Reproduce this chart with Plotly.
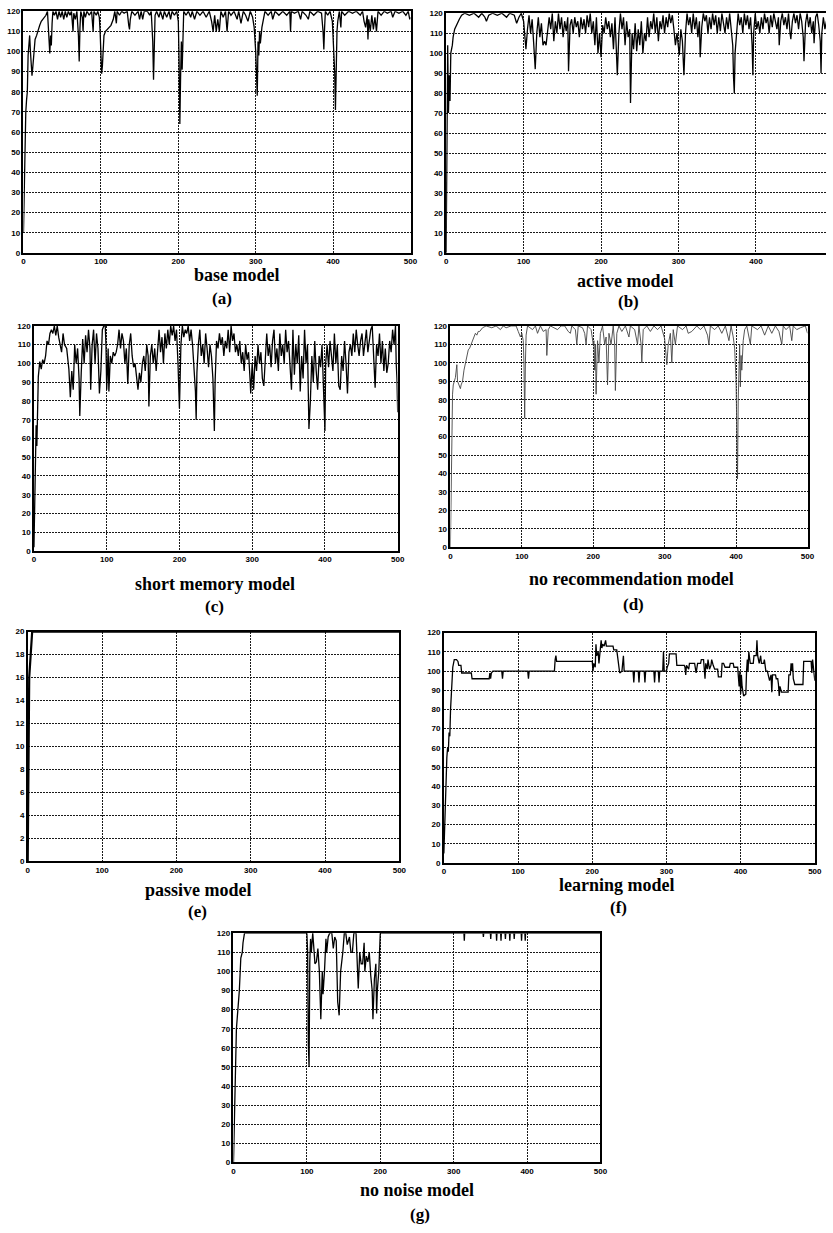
import plotly.graph_objects as go

# ---------------- data ----------------
x_tick_vals = [0, 100, 200, 300, 400, 500]
y_tick_vals_120 = [0, 10, 20, 30, 40, 50, 60, 70, 80, 90, 100, 110, 120]
y_tick_vals_20 = [0, 2, 4, 6, 8, 10, 12, 14, 16, 18, 20]

base_model = [(0,10),(1,33),(2,53),(3,70),(4,76),(5,80),(6,98),(7,102),(8,108),(9,100),(10,95),(11,88),(12,92),(13,97),(14,100),(15,106),(17,108),(19,111),(21,113),(23,115),(25,116),(27,117),(29,118),(31,120),(32,112),(33,104),(34,99),(35,108),(36,103),(37,114),(38,120),(40,118),(42,120),(44,116),(46,120),(48,117),(50,120),(52,116),(54,120),(56,117),(58,120),(60,118),(62,120),(64,110),(65,119),(67,116),(69,120),(71,108),(72,95),(73,112),(74,120),(76,117),(77,110),(78,120),(80,117),(82,120),(85,118),(88,120),(90,110),(91,120),(94,118),(96,120),(98,117),(99,110),(100,100),(101,89),(102,93),(103,102),(104,108),(106,110),(108,111),(110,112),(113,113),(116,116),(118,120),(120,114),(121,120),(124,118),(127,120),(130,119),(134,120),(136,113),(137,111),(138,116),(140,120),(144,118),(148,120),(150,116),(152,120),(154,116),(156,120),(160,120),(163,118),(165,120),(167,105),(168,86),(169,100),(170,118),(172,120),(175,117),(177,120),(180,116),(182,120),(185,117),(188,120),(190,116),(192,120),(195,118),(198,120),(200,115),(201,96),(202,64),(203,88),(204,105),(205,91),(206,110),(207,120),(210,118),(213,120),(216,117),(218,120),(221,116),(224,120),(228,118),(232,120),(236,117),(240,120),(243,115),(245,110),(247,118),(249,110),(251,116),(253,110),(255,120),(258,117),(261,120),(263,110),(265,120),(268,118),(272,120),(276,116),(278,120),(281,114),(284,120),(287,118),(290,115),(293,120),(296,117),(298,112),(300,100),(301,90),(302,78),(303,105),(304,98),(305,110),(306,104),(308,112),(310,116),(312,120),(316,118),(320,120),(322,116),(325,120),(330,118),(335,120),(340,118),(344,120),(345,110),(346,120),(350,119),(355,120),(358,116),(360,120),(365,118),(368,116),(370,120),(375,118),(380,120),(385,119),(387,110),(388,101),(389,112),(390,120),(393,118),(396,120),(399,115),(401,100),(402,90),(403,71),(404,95),(405,110),(406,115),(408,120),(410,112),(411,120),(415,118),(420,120),(425,119),(430,120),(435,118),(438,120),(440,115),(442,112),(444,118),(445,106),(446,116),(448,110),(450,118),(452,111),(454,117),(456,110),(458,120),(462,118),(466,120),(470,119),(475,120),(477,117),(480,120),(485,119),(490,120),(494,118),(497,120),(499,116),(500,117)]

active_model = [(0,0),(1,40),(2,104),(3,70),(4,89),(5,76),(6,100),(8,104),(9,108),(11,112),(14,115),(17,117),(20,119),(24,120),(30,119),(36,120),(42,118),(46,120),(50,118),(52,116),(55,119),(60,120),(66,119),(72,120),(78,118),(82,120),(88,119),(91,115),(94,118),(97,120),(100,116),(102,106),(103,102),(105,112),(107,119),(109,110),(111,117),(113,105),(115,92),(117,110),(119,118),(121,108),(123,115),(125,104),(127,106),(129,104),(131,110),(133,118),(135,112),(137,120),(139,106),(141,116),(143,110),(145,120),(147,112),(149,118),(151,108),(153,116),(155,111),(157,118),(158,91),(160,114),(162,117),(164,110),(166,118),(168,113),(170,116),(172,108),(174,118),(176,112),(178,117),(180,110),(182,119),(184,113),(186,120),(188,110),(190,116),(192,104),(194,118),(196,100),(198,110),(200,98),(202,114),(204,110),(206,118),(208,112),(210,116),(212,108),(214,115),(216,102),(218,118),(220,100),(221,89),(223,110),(225,120),(227,112),(229,118),(231,104),(233,116),(235,108),(237,112),(238,75),(240,110),(242,102),(244,115),(246,101),(248,112),(250,104),(252,116),(254,100),(256,110),(258,106),(260,118),(262,108),(264,116),(266,112),(268,120),(270,110),(272,118),(274,106),(276,116),(278,112),(280,119),(282,110),(284,118),(286,113),(288,120),(290,115),(292,119),(294,112),(296,104),(298,110),(300,100),(301,99),(303,112),(305,106),(307,89),(309,110),(311,120),(313,114),(315,118),(317,110),(319,120),(321,112),(323,118),(325,108),(327,116),(328,98),(330,113),(332,120),(334,116),(336,119),(338,110),(340,118),(342,112),(344,120),(346,114),(348,119),(350,110),(352,118),(354,111),(356,120),(358,115),(360,110),(362,118),(364,112),(366,120),(368,110),(370,104),(371,88),(372,80),(373,100),(375,112),(377,120),(379,114),(381,118),(383,110),(385,120),(387,114),(389,119),(391,112),(393,118),(395,104),(396,89),(397,110),(399,120),(401,112),(403,116),(405,110),(407,118),(409,112),(411,120),(413,115),(415,118),(417,110),(419,119),(421,113),(423,120),(425,116),(427,112),(429,118),(430,104),(432,116),(434,120),(436,114),(438,118),(440,112),(442,120),(444,110),(445,107),(447,116),(449,120),(451,115),(453,119),(455,112),(457,120),(459,116),(461,108),(462,96),(464,115),(466,120),(468,113),(470,118),(472,110),(474,116),(475,105),(477,118),(479,120),(481,114),(483,106),(484,90),(485,110),(487,118),(489,112),(491,116),(494,120),(497,112),(500,118)]

short_memory_model = [(0,2),(1,20),(2,40),(3,67),(4,56),(5,80),(6,93),(7,97),(8,101),(10,97),(12,102),(14,100),(16,104),(18,112),(20,110),(22,116),(24,118),(26,116),(28,120),(30,115),(32,120),(34,114),(36,110),(38,106),(40,116),(42,110),(45,108),(48,97),(50,82),(52,96),(54,86),(56,110),(58,100),(60,108),(62,92),(63,72),(65,95),(67,113),(69,100),(71,115),(73,106),(75,118),(77,108),(78,86),(80,110),(82,118),(84,100),(86,116),(88,108),(90,84),(92,96),(94,118),(96,120),(98,120),(99,110),(100,86),(101,96),(102,108),(103,85),(105,104),(107,100),(109,106),(111,104),(113,106),(115,110),(117,118),(119,108),(121,116),(123,112),(125,100),(127,108),(129,89),(131,110),(133,116),(135,104),(137,98),(139,100),(141,92),(143,86),(145,95),(147,90),(149,100),(151,104),(153,96),(155,110),(157,104),(158,77),(160,104),(162,110),(164,100),(166,108),(168,96),(170,110),(172,118),(174,106),(176,114),(178,100),(180,116),(182,108),(184,118),(186,110),(188,120),(190,115),(192,120),(194,112),(196,118),(198,100),(200,76),(202,110),(204,120),(206,114),(208,118),(210,116),(212,120),(214,112),(216,118),(218,110),(220,100),(222,85),(223,70),(224,95),(226,110),(228,118),(230,104),(232,110),(234,100),(236,116),(238,108),(240,98),(242,110),(244,104),(246,92),(248,64),(249,90),(251,112),(253,108),(255,116),(257,110),(259,114),(261,104),(263,112),(265,108),(267,118),(269,106),(271,120),(273,112),(275,116),(277,106),(279,110),(281,104),(283,112),(285,100),(287,106),(289,96),(291,110),(293,102),(295,106),(297,92),(298,84),(300,100),(302,86),(304,104),(306,96),(308,110),(310,100),(312,106),(314,92),(316,88),(318,100),(320,116),(322,104),(324,110),(326,98),(328,112),(330,118),(332,100),(334,108),(336,96),(338,116),(340,104),(342,110),(344,100),(346,118),(348,106),(350,112),(352,100),(354,86),(356,118),(358,94),(360,110),(362,100),(364,115),(366,85),(368,104),(370,92),(372,118),(374,100),(376,110),(378,65),(380,80),(382,104),(384,90),(386,112),(388,96),(390,86),(392,104),(394,98),(396,110),(398,86),(400,64),(401,100),(403,110),(405,98),(407,112),(409,104),(411,96),(413,116),(415,100),(417,110),(419,88),(421,86),(423,104),(425,96),(427,112),(429,100),(431,84),(433,106),(435,110),(437,104),(439,116),(441,106),(443,118),(445,110),(447,104),(449,112),(451,116),(453,104),(455,110),(457,118),(459,106),(461,112),(463,118),(465,120),(467,104),(469,87),(471,110),(473,104),(475,116),(477,100),(479,112),(481,96),(483,108),(485,95),(487,100),(489,112),(491,106),(493,118),(495,110),(497,120),(498,100),(499,92),(500,74)]

no_recommendation_model = [(0,0),(1,40),(2,70),(3,83),(4,88),(5,90),(7,92),(9,99),(10,90),(12,88),(14,86),(15,88),(17,90),(19,96),(21,100),(23,104),(25,107),(27,108),(29,110),(31,112),(33,114),(35,116),(37,115),(39,117),(41,117),(45,119),(50,120),(58,119),(64,120),(70,118),(74,120),(78,119),(85,120),(92,120),(95,117),(98,114),(100,116),(102,112),(103,100),(104,70),(105,100),(106,115),(108,120),(115,118),(119,120),(122,116),(126,120),(130,117),(134,118),(135,104),(137,118),(140,120),(145,119),(150,118),(155,120),(160,120),(165,117),(168,116),(170,120),(175,118),(177,110),(179,120),(185,119),(188,116),(190,110),(192,120),(197,118),(200,110),(201,112),(202,96),(203,110),(204,83),(206,112),(208,100),(210,116),(213,120),(216,110),(218,114),(220,88),(222,116),(225,110),(228,120),(230,110),(231,85),(233,116),(236,120),(240,117),(245,120),(250,114),(252,120),(258,118),(262,110),(264,120),(267,110),(268,100),(269,112),(270,118),(275,120),(280,117),(285,120),(290,118),(295,120),(300,113),(302,104),(303,99),(305,110),(308,116),(310,100),(312,118),(315,110),(318,120),(325,118),(330,120),(333,116),(338,117),(345,120),(350,118),(355,120),(360,115),(362,110),(364,120),(370,118),(375,120),(380,116),(385,120),(390,112),(393,120),(396,114),(398,108),(400,90),(401,60),(402,37),(403,80),(404,100),(405,110),(406,87),(407,104),(408,96),(410,112),(412,118),(415,120),(420,110),(422,120),(430,118),(435,120),(440,115),(445,120),(450,116),(455,120),(460,117),(464,110),(466,120),(470,118),(475,120),(478,112),(480,120),(485,118),(490,119),(497,120),(500,116)]

passive_model = [(0,0),(1,14),(2,16),(4,18),(6,20),(100,20),(200,20),(300,20),(400,20),(500,20)]

learning_model = [(0,5),(1,20),(2,40),(3,52),(4,55),(5,60),(6,58),(7,68),(8,66),(9,80),(10,90),(11,95),(12,102),(14,106),(17,106),(19,105),(20,103),(23,103),(24,99),(37,99),(38,96),(61,96),(62,99),(63,96),(64,99),(66,100),(78,100),(79,96),(80,100),(113,100),(114,96),(115,100),(149,100),(150,106),(151,108),(152,105),(200,105),(201,100),(202,104),(204,102),(205,114),(206,108),(208,110),(209,104),(210,110),(212,116),(213,112),(214,114),(216,113),(218,116),(219,113),(222,113),(228,113),(229,111),(233,111),(234,108),(236,103),(237,99),(240,100),(241,106),(242,108),(243,100),(255,100),(256,94),(257,100),(262,100),(263,94),(264,100),(270,100),(271,94),(272,100),(283,100),(284,94),(285,100),(289,100),(290,94),(291,100),(295,100),(296,110),(297,100),(300,100),(301,102),(303,104),(304,109),(313,109),(314,103),(324,103),(325,102),(326,98),(327,103),(330,101),(331,104),(338,104),(340,99),(342,104),(346,104),(347,106),(350,106),(352,96),(353,104),(355,101),(356,106),(358,101),(360,103),(361,106),(363,103),(365,101),(369,101),(370,97),(374,97),(375,104),(377,104),(379,102),(385,102),(386,104),(390,104),(391,102),(396,102),(397,98),(398,92),(399,100),(400,88),(401,98),(402,92),(404,87),(407,88),(408,100),(409,106),(410,100),(411,110),(413,104),(417,104),(418,108),(421,108),(422,116),(423,108),(425,104),(427,108),(428,104),(431,104),(432,106),(434,100),(436,100),(437,98),(439,95),(441,98),(442,89),(443,98),(447,98),(448,96),(450,96),(451,93),(452,87),(453,92),(455,89),(464,89),(465,98),(467,98),(468,104),(469,100),(470,104),(471,96),(473,93),(484,93),(485,105),(495,105),(496,99),(497,106),(499,100),(500,95)]

no_noise_model = [(0,0),(1,22),(2,40),(3,55),(4,70),(6,80),(8,90),(10,107),(12,110),(13,115),(15,120),(100,120),(101,110),(102,62),(103,50),(104,105),(105,117),(106,110),(108,120),(109,115),(111,104),(113,105),(115,112),(117,100),(118,86),(119,75),(121,100),(122,88),(124,100),(126,117),(127,110),(129,118),(131,120),(134,120),(136,112),(138,118),(140,116),(141,100),(142,84),(144,77),(146,100),(149,110),(151,120),(153,120),(155,114),(158,118),(160,110),(162,110),(164,120),(167,120),(169,104),(170,91),(172,110),(174,104),(176,104),(178,115),(179,100),(181,108),(183,105),(185,110),(187,98),(189,90),(190,75),(192,96),(194,104),(195,78),(196,90),(198,100),(200,120),(300,120),(314,120),(314.5,116),(315,120),(340,120),(340.5,118),(341,120),(350,120),(350.5,117),(351,120),(358,120),(358.5,116),(359,120),(364,120),(364.5,116),(365,120),(370,120),(370.5,117),(371,120),(376,120),(376.5,116),(377,120),(382,120),(382.5,117),(383,120),(392,120),(392.5,116),(393,120),(397,120),(397.5,116),(398,120),(500,120)]

captions = ["base model", "active model", "short memory model", "no recommendation model",
            "passive model", "learning model", "no noise model"]
letters = ["(a)", "(b)", "(c)", "(d)", "(e)", "(f)", "(g)"]

# ---------------- layout geometry (pixels) ----------------
W, H = 833, 1233
panels = [
    dict(pts=base_model, box=(21.7, 413, 7.3, 250.7), xr=[0, 500], yt=y_tick_vals_120, cap=(238, 273), let=(222, 297)),
    dict(pts=active_model, box=(449, 833, 9.3, 250.7), xr=[0, 490.4], yt=y_tick_vals_120, cap=(630, 279), let=(633, 300), open_right=True),
    dict(pts=short_memory_model, box=(32.3, 400, 324.3, 551), xr=[0, 500], yt=y_tick_vals_120, cap=(215, 584), let=(215, 607)),
    dict(pts=no_recommendation_model, box=(453.3, 814.3, 324.3, 547.3), xr=[0, 500], yt=y_tick_vals_120, cap=(636, 579), let=(638, 605), color="#444", width=0.9),
    dict(pts=passive_model, box=(26, 401.7, 632.3, 863.7), xr=[0, 500], yt=y_tick_vals_20, cap=(199, 893), let=(198, 914), width=2.2),
    dict(pts=learning_model, box=(446.7, 821.7, 633.3, 865.3), xr=[0, 500], yt=y_tick_vals_120, cap=(622, 887), let=(623, 910)),
    dict(pts=no_noise_model, box=(234, 605, 936, 1167), xr=[0, 500], yt=y_tick_vals_120, cap=(420, 1195), let=(423, 1219)),
]

fig = go.Figure()
tickfont = dict(family="Liberation Sans", size=8, color="black", weight="bold")
capfont = dict(family="Liberation Serif, Times New Roman, serif", size=18, color="black", weight="bold")
letfont = dict(family="Liberation Serif, Times New Roman, serif", size=17, color="black", weight="bold")
annotations = []
for i, p in enumerate(panels, start=1):
    l, r, t, b = p["box"]
    xs = [q[0] for q in p["pts"]]
    ys = [q[1] for q in p["pts"]]
    sfx = "" if i == 1 else str(i)
    fig.add_trace(go.Scatter(x=xs, y=ys, mode="lines", xaxis="x" + sfx, yaxis="y" + sfx,
                             line=dict(color=p.get("color", "black"), width=p.get("width", 1.3)),
                             hoverinfo="skip", showlegend=False))
    ymax = p["yt"][-1]
    grid = dict(showgrid=True, gridcolor="#1a1a1a", griddash="2px,1px", gridwidth=1)
    xa = dict(domain=[l / W, min(r / W, 1.0)], range=p["xr"], anchor="y" + sfx,
              tickvals=x_tick_vals, showline=True, linecolor="black", linewidth=1.5,
              mirror=True, zeroline=False, ticks="", tickfont=tickfont, fixedrange=True, **grid)
    ya = dict(domain=[1 - b / H, 1 - t / H], range=[0, ymax], anchor="x" + sfx,
              tickvals=p["yt"], showline=True, linecolor="black", linewidth=1.5,
              mirror=not p.get("open_right", False), zeroline=False, ticks="",
              tickfont=tickfont, fixedrange=True, **grid)
    fig.layout["xaxis" + sfx] = xa
    fig.layout["yaxis" + sfx] = ya
    annotations.append(dict(text=captions[i - 1], x=p["cap"][0] / W, y=1 - p["cap"][1] / H,
                            xref="paper", yref="paper", showarrow=False, xanchor="center",
                            yanchor="middle", font=capfont))
    annotations.append(dict(text=letters[i - 1], x=p["let"][0] / W, y=1 - p["let"][1] / H,
                            xref="paper", yref="paper", showarrow=False, xanchor="center",
                            yanchor="middle", font=letfont))

fig.update_layout(width=W, height=H, margin=dict(l=0, r=0, t=0, b=0),
                  paper_bgcolor="white", plot_bgcolor="white", showlegend=False,
                  annotations=annotations)
fig.write_html("out.html", config={"displayModeBar": False},
               post_script="document.body.style.margin='0';document.body.style.overflow='hidden';")
